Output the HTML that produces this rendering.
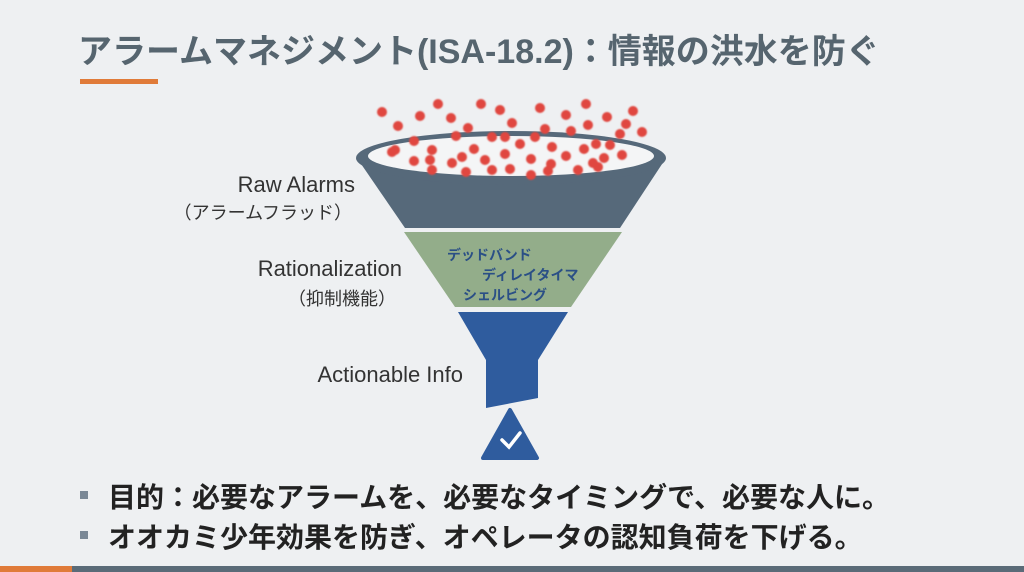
<!DOCTYPE html>
<html><head><meta charset="utf-8"><style>
body{margin:0;width:1024px;height:572px;background:#eef0f2;position:relative;overflow:hidden;font-family:"Liberation Sans","Noto Sans CJK JP",sans-serif;}
.t{position:absolute;white-space:nowrap;}
</style></head><body>
<div class="t" style="left:78px;top:24px;font-size:34px;font-weight:bold;color:#56656f;">アラームマネジメント(ISA-18.2)：情報の洪水を防ぐ</div>
<div style="position:absolute;left:80px;top:79px;width:78px;height:5px;background:#e07b39;"></div>
<svg width="1024" height="572" style="position:absolute;left:0;top:0">
<defs><filter id="b"><feGaussianBlur stdDeviation="0.8"/></filter></defs>
<path d="M357,158 L405,228 L620,228 L666,158 Z" fill="#56697a"/>
<ellipse cx="511" cy="158" rx="155" ry="27" fill="#56697a"/>
<ellipse cx="511" cy="156" rx="143" ry="20" fill="#f4f5f6"/>
<path d="M404,232 L622,232 L571,307 L455,307 Z" fill="#93ad8a"/>
<path d="M458,312 L568,312 L538,360 L538,398 L486,408 L486,360 Z" fill="#2f5c9e"/>
<path d="M510,410 L537,458 L483,458 Z" fill="#2f5c9e" stroke="#2f5c9e" stroke-width="4" stroke-linejoin="round"/>
<path d="M502,440 L509,447 L520,433" fill="none" stroke="#fff" stroke-width="3.5" stroke-linecap="round"/>
<g fill="#e0473f" filter="url(#b)">
<circle cx="382" cy="112" r="5"/><circle cx="398" cy="126" r="5"/><circle cx="420" cy="116" r="5"/><circle cx="438" cy="104" r="5"/><circle cx="451" cy="118" r="5"/><circle cx="481" cy="104" r="5"/><circle cx="468" cy="128" r="5"/><circle cx="500" cy="110" r="5"/><circle cx="512" cy="123" r="5"/><circle cx="540" cy="108" r="5"/><circle cx="545" cy="129" r="5"/><circle cx="566" cy="115" r="5"/><circle cx="586" cy="104" r="5"/><circle cx="607" cy="117" r="5"/><circle cx="620" cy="134" r="5"/><circle cx="633" cy="111" r="5"/><circle cx="642" cy="132" r="5"/><circle cx="588" cy="125" r="5"/><circle cx="626" cy="124" r="5"/><circle cx="395" cy="150" r="5"/><circle cx="414" cy="141" r="5"/><circle cx="432" cy="150" r="5"/><circle cx="456" cy="136" r="5"/><circle cx="474" cy="149" r="5"/><circle cx="492" cy="137" r="5"/><circle cx="505" cy="154" r="5"/><circle cx="520" cy="144" r="5"/><circle cx="535" cy="137" r="5"/><circle cx="552" cy="147" r="5"/><circle cx="571" cy="131" r="5"/><circle cx="584" cy="149" r="5"/><circle cx="596" cy="144" r="5"/><circle cx="610" cy="145" r="5"/><circle cx="622" cy="155" r="5"/><circle cx="392" cy="152" r="5"/><circle cx="414" cy="161" r="5"/><circle cx="430" cy="160" r="5"/><circle cx="462" cy="157" r="5"/><circle cx="485" cy="160" r="5"/><circle cx="531" cy="159" r="5"/><circle cx="551" cy="164" r="5"/><circle cx="566" cy="156" r="5"/><circle cx="593" cy="163" r="5"/><circle cx="604" cy="158" r="5"/><circle cx="432" cy="170" r="5"/><circle cx="466" cy="172" r="5"/><circle cx="492" cy="170" r="5"/><circle cx="510" cy="169" r="5"/><circle cx="531" cy="175" r="5"/><circle cx="548" cy="171" r="5"/><circle cx="578" cy="170" r="5"/><circle cx="598" cy="167" r="5"/><circle cx="452" cy="163" r="5"/><circle cx="505" cy="137" r="5"/>
</g>
</svg>
<div class="t" style="left:447px;top:245px;font-size:14px;font-weight:bold;color:#2a4f86;">デッドバンド</div>
<div class="t" style="left:482px;top:265px;font-size:14px;font-weight:bold;color:#2a4f86;">ディレイタイマ</div>
<div class="t" style="left:463px;top:285px;font-size:14px;font-weight:bold;color:#2a4f86;">シェルビング</div>
<div class="t" style="right:669px;top:172px;font-size:22px;color:#333;">Raw Alarms</div>
<div class="t" style="right:672px;top:199px;font-size:18px;color:#333;">（アラームフラッド）</div>
<div class="t" style="right:622px;top:256px;font-size:22px;color:#333;">Rationalization</div>
<div class="t" style="right:628px;top:285px;font-size:18px;color:#333;">（抑制機能）</div>
<div class="t" style="right:561px;top:362px;font-size:22px;color:#333;">Actionable Info</div>
<div style="position:absolute;left:80px;top:491px;width:8px;height:8px;background:#7a8896;"></div>
<div style="position:absolute;left:80px;top:531px;width:8px;height:8px;background:#7a8896;"></div>
<div class="t" style="left:108px;top:476px;font-size:28px;font-weight:bold;color:#222;">目的：必要なアラームを、必要なタイミングで、必要な人に。</div>
<div class="t" style="left:108px;top:516px;font-size:28px;font-weight:bold;color:#222;">オオカミ少年効果を防ぎ、オペレータの認知負荷を下げる。</div>
<div style="position:absolute;left:0;top:566px;width:72px;height:6px;background:#e07b39;"></div>
<div style="position:absolute;left:72px;top:566px;width:952px;height:6px;background:#5a6b78;"></div>
</body></html>
